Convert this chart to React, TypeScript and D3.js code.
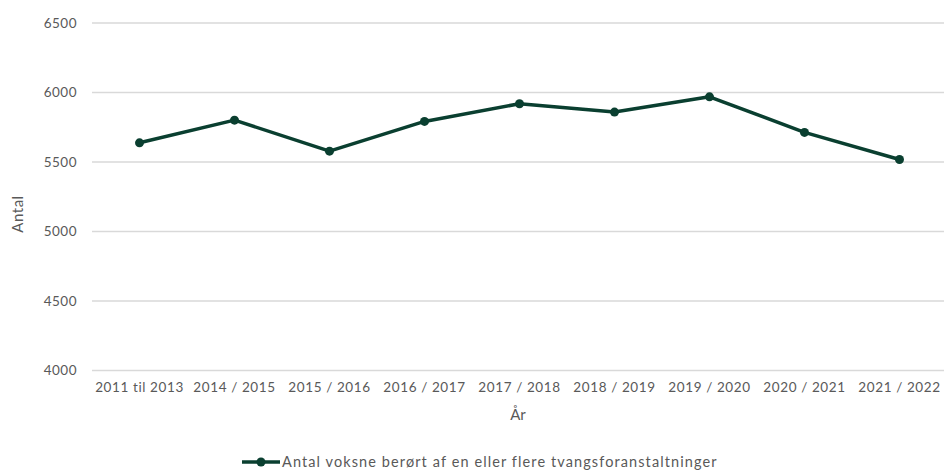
import React from "react";
import * as d3 from "d3";

const categories = ["2011 til 2013", "2014 / 2015", "2015 / 2016", "2016 / 2017", "2017 / 2018", "2018 / 2019", "2019 / 2020", "2020 / 2021", "2021 / 2022"];
const values = [5638, 5801, 5578, 5792, 5919, 5859, 5969, 5713, 5518];
const yTicks = [4000, 4500, 5000, 5500, 6000, 6500];
const seriesName = "Antal voksne berørt af en eller flere tvangsforanstaltninger";
const xTitle = "År";
const yTitle = "Antal";

const W = 944;
const H = 470;
const FONT = "Lato, 'Open Sans', sans-serif";
const TEXT = "#595959";
const LINE = "#0a3f30";

export default function App() {
  const x = d3.scaleBand<string>().domain(categories).range([92, 947]).padding(0);
  const y = d3.scaleLinear().domain([4000, 6500]).range([370.5, 23]);
  const cx = (c: string) => (x(c) as number) + x.bandwidth() / 2;
  const line = d3.line<number>().x((_, i) => cx(categories[i])).y((v) => y(v));
  return (
    <svg width={W} height={H} style={{ position: "absolute", left: 0, top: 0, background: "#fff" }} fontFamily={FONT}>
      {yTicks.map((t) => (
        <g key={t}>
          <line x1={92} x2={W} y1={y(t)} y2={y(t)} stroke="#d9d9d9" strokeWidth={1.3} />
          <text x={77} y={y(t)} dy="0.35em" textAnchor="end" fontSize={13.5} letterSpacing={0.5} fill={TEXT}>{t}</text>
        </g>
      ))}
      {categories.map((c) => (
        <text key={c} x={cx(c)} y={392} textAnchor="middle" fontSize={13.5} letterSpacing={0.6} fill={TEXT}>{c}</text>
      ))}
      <text x={518} y={420} textAnchor="middle" fontSize={15} fill={TEXT}>{xTitle}</text>
      <text transform={`translate(23,214) rotate(-90)`} textAnchor="middle" fontSize={15} letterSpacing={0.5} fill={TEXT}>{yTitle}</text>
      <path d={line(values) || ""} fill="none" stroke={LINE} strokeWidth={3.5} strokeLinejoin="round" />
      {values.map((v, i) => (
        <circle key={i} cx={cx(categories[i])} cy={y(v)} r={4.5} fill={LINE} />
      ))}
      <g>
        <line x1={242} x2={280} y1={462} y2={462} stroke={LINE} strokeWidth={3.5} />
        <circle cx={261} cy={462} r={4.5} fill={LINE} />
        <text x={282} y={462} dy="0.35em" fontSize={14.5} letterSpacing={1.1} fill={TEXT}>{seriesName}</text>
      </g>
    </svg>
  );
}
